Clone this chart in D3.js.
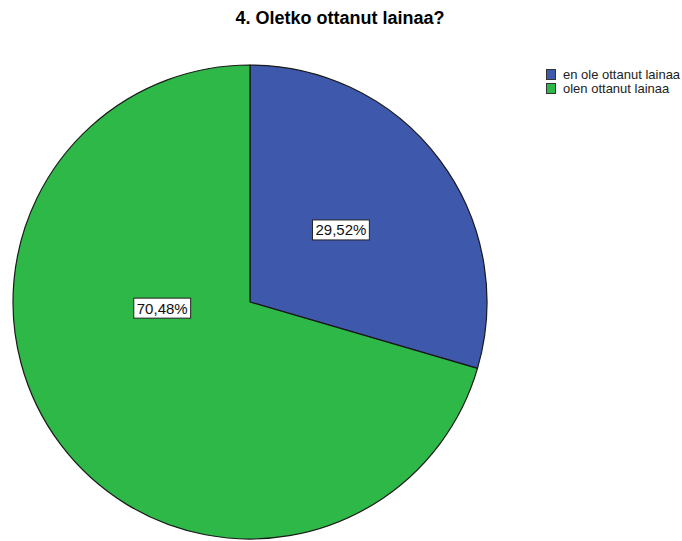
<!DOCTYPE html>
<html>
<head>
<meta charset="utf-8">
<script src="https://cdn.jsdelivr.net/npm/d3@7"></script>
<style>
  html, body { margin: 0; padding: 0; background: #fff; }
  svg { display: block; }
</style>
</head>
<body>
<svg id="chart" width="682" height="541"></svg>
<script>
// Survey answers to "Oletko ottanut lainaa?" (percent of respondents)
const categories = ["en ole ottanut lainaa", "olen ottanut lainaa"];
const percentages = [29.52, 70.48];
const sliceColors = ["#3E58AC", "#2EB848"];
const chartTitle = "4. Oletko ottanut lainaa?";

// Where each percentage box sits inside its slice: angle (deg, clockwise from 12 o'clock) and distance from centre
const labelAnchors = [
  { angle: 51.6, dist: 116 },
  { angle: 266, dist: 88 }
];

const svg = d3.select("#chart");
const cx = 250, cy = 302, radius = 237;

svg.append("text")
  .attr("x", 340).attr("y", 24)
  .attr("text-anchor", "middle")
  .attr("font-family", "Liberation Sans, Arial, sans-serif")
  .attr("font-weight", "bold")
  .attr("font-size", 18)
  .attr("fill", "#000")
  .text(chartTitle);

const data = categories.map((c, i) => ({ category: c, value: percentages[i], color: sliceColors[i] }));

const pie = d3.pie().value(d => d.value).sort(null);
const arc = d3.arc().innerRadius(0).outerRadius(radius);
const arcs = pie(data);

const g = svg.append("g").attr("transform", `translate(${cx},${cy})`);

g.selectAll("path.slice")
  .data(arcs)
  .join("path")
  .attr("class", "slice")
  .attr("d", arc)
  .attr("fill", d => d.data.color)
  .attr("stroke", "#1a1a1a")
  .attr("stroke-width", 1.2)
  .attr("stroke-linejoin", "round");

const fmt = v => d3.format(".2f")(v).replace(".", ",") + "%";

const labels = g.selectAll("g.lbl")
  .data(arcs)
  .join("g")
  .attr("class", "lbl")
  .attr("transform", (d, i) => {
    const a = labelAnchors[i].angle * Math.PI / 180;
    const r = labelAnchors[i].dist;
    return `translate(${r * Math.sin(a)},${-r * Math.cos(a)})`;
  });

labels.append("text")
  .attr("text-anchor", "middle")
  .attr("dy", "0.36em")
  .attr("font-family", "Liberation Sans, Arial, sans-serif")
  .attr("font-size", 15)
  .attr("fill", "#111")
  .text(d => fmt(d.data.value));

labels.each(function() {
  const grp = d3.select(this);
  const bb = grp.select("text").node().getBBox();
  grp.insert("rect", "text")
    .attr("x", bb.x - 3)
    .attr("y", -10)
    .attr("width", bb.width + 6)
    .attr("height", 20)
    .attr("fill", "#fff")
    .attr("stroke", "#222")
    .attr("stroke-width", 1);
});

// Legend
const legend = svg.append("g").attr("transform", "translate(546,69)");
const rows = legend.selectAll("g")
  .data(data)
  .join("g")
  .attr("transform", (d, i) => `translate(0,${i * 14})`);

rows.append("rect")
  .attr("x", 0.5).attr("y", 0.5)
  .attr("width", 9).attr("height", 10)
  .attr("fill", d => d.color)
  .attr("stroke", "#333")
  .attr("stroke-width", 1);

rows.append("text")
  .attr("x", 17).attr("y", 10)
  .attr("font-family", "Liberation Sans, Arial, sans-serif")
  .attr("font-size", 13)
  .attr("fill", "#222")
  .text(d => d.category);
</script>
</body>
</html>
